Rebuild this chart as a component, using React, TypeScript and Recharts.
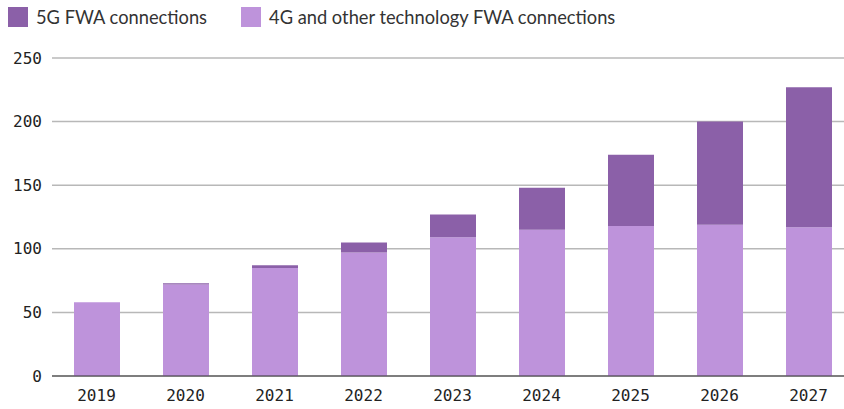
import { BarChart, Bar, XAxis, YAxis, CartesianGrid } from "recharts";

const years = ["2019", "2020", "2021", "2022", "2023", "2024", "2025", "2026", "2027"];
const otherFwa = [58, 72, 85, 97, 109, 115, 118, 119, 117];
const fiveGFwa = [0, 1, 2, 8, 18, 33, 56, 81, 110];
const yTicks = [0, 50, 100, 150, 200, 250];

const data = years.map((year, i) => ({
  year,
  other: otherFwa[i],
  fiveG: fiveGFwa[i],
}));

const DARK = "#8b60a8";
const LIGHT = "#be93db";

function Legend() {
  const item = (color: string, label: string) => (
    <div style={{ display: "flex", alignItems: "center", marginRight: 34 }}>
      <div style={{ width: 20, height: 20, background: color, marginRight: 8 }} />
      <span>{label}</span>
    </div>
  );
  return (
    <div
      style={{
        position: "absolute",
        top: 6,
        left: 8,
        display: "flex",
        fontFamily: "Lato, 'Noto Sans', sans-serif",
        fontSize: 18.3,
        color: "#333",
        lineHeight: "22px",
      }}
    >
      {item(DARK, "5G FWA connections")}
      {item(LIGHT, "4G and other technology FWA connections")}
    </div>
  );
}

export default function App() {
  return (
    <div
      style={{
        position: "fixed",
        top: 0,
        left: 0,
        width: 844,
        height: 409,
        overflow: "hidden",
        background: "#fff",
      }}
    >
      <Legend />
      <BarChart
        width={853}
        height={409}
        data={data}
        margin={{ top: 58, right: 0, left: 0, bottom: 3 }}
      >
        <CartesianGrid vertical={false} stroke="#b8b8b8" strokeWidth={1.5} />
        <XAxis
          dataKey="year"
          height={30}
          tickLine={false}
          axisLine={{ stroke: "#333" }}
          tick={{ fill: "#222", fontSize: 16, fontFamily: "'DejaVu Sans Mono', monospace" }}
          tickMargin={8}
        />
        <YAxis
          width={52}
          domain={[0, 250]}
          ticks={yTicks}
          axisLine={false}
          tickLine={false}
          tickMargin={4}
          tick={{ fill: "#222", fontSize: 16, fontFamily: "'DejaVu Sans Mono', monospace" }}
        />
        <Bar dataKey="other" stackId="a" fill={LIGHT} barSize={46} isAnimationActive={false} />
        <Bar dataKey="fiveG" stackId="a" fill={DARK} barSize={46} isAnimationActive={false} />
      </BarChart>
    </div>
  );
}
